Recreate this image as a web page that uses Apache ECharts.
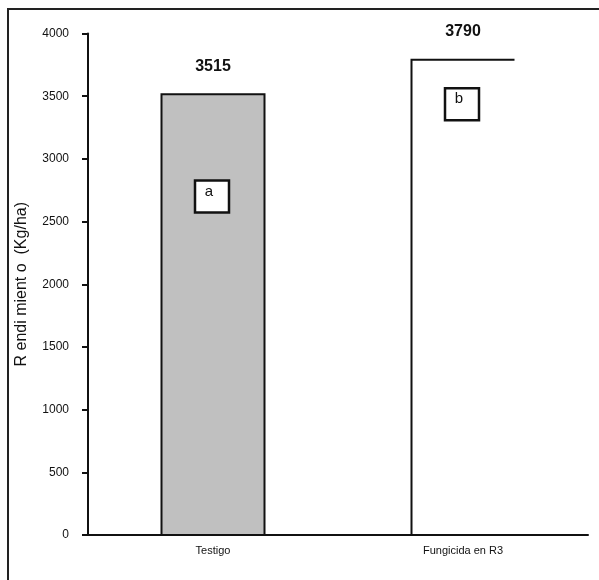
<!DOCTYPE html>
<html>
<head>
<meta charset="utf-8">
<script src="https://cdn.jsdelivr.net/npm/echarts@6/dist/echarts.min.js"></script>
<style>html,body{margin:0;padding:0;background:#fff;}#c{width:599px;height:580px;}</style>
</head>
<body>
<div id="c"></div>
<script>
const categories = ['Testigo', 'Fungicida en R3'];
const values = [3515, 3790];
const letters = ['a', 'b'];
const letterAt = [2700, 3435];
const yTicks = [0, 500, 1000, 1500, 2000, 2500, 3000, 3500, 4000];
const yTitle = 'R endi mient o  (Kg/ha)';

const FONT = '"Liberation Sans", Arial, sans-serif';
const chart = echarts.init(document.getElementById('c'), null, {renderer: 'canvas'});

const data = values.map((v, i) => [i, v, letterAt[i]]);

function renderItem(params, api) {
  const idx = api.value(0);
  const val = api.value(1);
  const top = api.coord([idx, val]);
  const base = api.coord([idx, 0]);
  const bw = 103;
  const left = top[0] - bw / 2, right = top[0] + bw / 2;
  const children = [];
  if (idx === 0) {
    children.push({type: 'rect', shape: {x: left, y: top[1], width: bw, height: base[1] - top[1]},
      style: {fill: '#c0c0c0', stroke: '#111', lineWidth: 2}});
  } else {
    children.push({type: 'polyline', shape: {points: [[left, base[1]], [left, top[1]], [right, top[1]]]},
      style: {fill: null, stroke: '#111', lineWidth: 2}});
  }
  children.push({type: 'text', style: {x: top[0], y: top[1] - 28, text: String(val), fill: '#111',
    font: 'bold 16px ' + FONT, textAlign: 'center', textVerticalAlign: 'middle'}});
  const lp = api.coord([idx, api.value(2)]);
  children.push({type: 'rect', shape: {x: lp[0] - 18, y: lp[1] - 16, width: 34, height: 32},
    style: {fill: '#fff', stroke: '#111', lineWidth: 2.5}});
  children.push({type: 'text', style: {x: lp[0] - 4, y: lp[1] - 5, text: letters[idx], fill: '#111',
    font: '15px ' + FONT, textAlign: 'center', textVerticalAlign: 'middle'}});
  return {type: 'group', children: children};
}

chart.setOption({
  animation: false,
  backgroundColor: '#fff',
  graphic: [{type: 'rect', shape: {x: 8, y: 9, width: 620, height: 620},
    style: {fill: null, stroke: '#222', lineWidth: 2}, z: 100, silent: true}],
  grid: {left: 88, right: 11, top: 33.5, bottom: 45},
  xAxis: {
    type: 'category', data: categories,
    axisLine: {lineStyle: {color: '#111', width: 2}},
    axisTick: {show: false},
    axisLabel: {color: '#111', fontSize: 11, fontFamily: FONT, margin: 10}
  },
  yAxis: {
    type: 'value', min: 0, max: 4000, interval: 500,
    name: yTitle, nameLocation: 'middle', nameGap: 58, nameRotate: 90,
    nameTextStyle: {color: '#111', fontSize: 16, fontFamily: FONT},
    axisLine: {show: true, lineStyle: {color: '#111', width: 2}},
    axisTick: {show: true, length: 6, lineStyle: {color: '#111', width: 2}},
    splitLine: {show: false},
    axisLabel: {color: '#111', fontSize: 12, fontFamily: FONT, margin: 19,
      formatter: v => yTicks.includes(v) ? String(v) : ''}
  },
  series: [{
    type: 'custom', renderItem: renderItem, data: data,
    encode: {x: 0, y: 1}, clip: false
  }]
});
</script>
</body>
</html>
